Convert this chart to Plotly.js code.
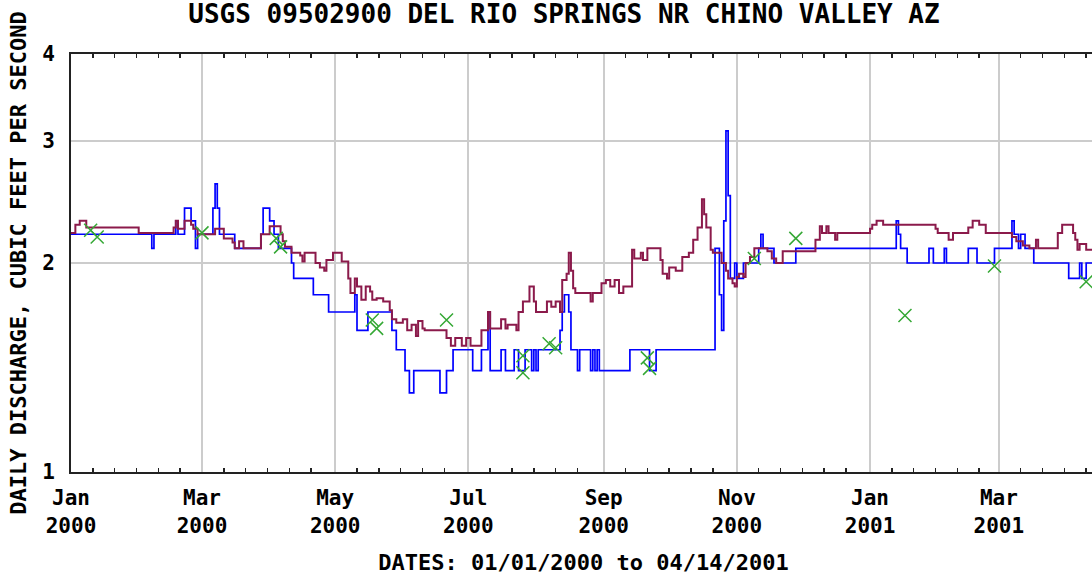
<!DOCTYPE html>
<html>
<head>
<meta charset="utf-8">
<script src="https://cdn.plot.ly/plotly-3.0.1.min.js"></script>
<style>
html,body{margin:0;padding:0;overflow:hidden;background:#fff;}
#chart{width:1100px;height:576px;}
</style>
</head>
<body>
<div id="chart"></div>
<script>
// Daily discharge (blue) change points, step shape
const dailyDates = ['2000-01-01','2000-02-07','2000-02-08','2000-02-18','2000-02-19','2000-02-22','2000-02-25','2000-02-27','2000-02-28','2000-03-06','2000-03-07','2000-03-08','2000-03-09','2000-03-16','2000-03-28','2000-03-29','2000-04-01','2000-04-03','2000-04-05','2000-04-11','2000-04-12','2000-04-21','2000-04-28','2000-05-10','2000-05-11','2000-05-16','2000-05-27','2000-05-29','2000-06-02','2000-06-04','2000-06-06','2000-06-18','2000-06-21','2000-06-24','2000-07-03','2000-07-07','2000-07-10','2000-07-11','2000-07-16','2000-07-18','2000-07-22','2000-07-24','2000-07-27','2000-07-30','2000-07-31','2000-08-01','2000-08-02','2000-08-12','2000-08-13','2000-08-14','2000-08-16','2000-08-17','2000-08-20','2000-08-21','2000-08-26','2000-08-27','2000-08-28','2000-08-29','2000-08-30','2000-09-13','2000-09-22','2000-09-25','2000-10-22','2000-10-24','2000-10-25','2000-10-26','2000-10-27','2000-10-28','2000-10-29','2000-10-31','2000-11-01','2000-11-04','2000-11-11','2000-11-12','2000-11-13','2000-11-18','2000-11-28','2001-01-13','2001-01-14','2001-01-15','2001-01-18','2001-01-28','2001-01-30','2001-02-04','2001-02-05','2001-02-15','2001-02-19','2001-02-27','2001-03-07','2001-03-08','2001-03-10','2001-03-11','2001-03-13','2001-03-17','2001-04-02','2001-04-07','2001-04-08','2001-04-10','2001-04-14'];
const dailyValues = [2.2,2.1,2.2,2.3,2.2,2.4,2.3,2.1,2.2,2.4,2.6,2.4,2.2,2.1,2.2,2.4,2.3,2.2,2.1,2.0,1.9,1.8,1.7,1.8,1.6,1.7,1.6,1.5,1.4,1.3,1.4,1.3,1.4,1.5,1.4,1.5,1.7,1.4,1.5,1.4,1.5,1.4,1.5,1.4,1.5,1.4,1.5,1.6,1.7,1.8,1.7,1.5,1.4,1.5,1.4,1.5,1.4,1.5,1.4,1.5,1.4,1.5,2.1,1.8,1.6,2.3,3.1,2.5,1.9,2.0,1.9,2.0,2.1,2.2,2.1,2.0,2.1,2.3,2.2,2.1,2.0,2.1,2.0,2.1,2.0,2.1,2.0,2.1,2.3,2.2,2.1,2.2,2.1,2.0,1.9,2.0,1.9,2.0,2.0];

// Statistic series (maroon) change points
const statDates = ['2000-01-01','2000-01-03','2000-01-05','2000-01-08','2000-02-01','2000-02-17','2000-02-18','2000-02-19','2000-02-22','2000-02-25','2000-02-26','2000-02-28','2000-03-07','2000-03-11','2000-03-15','2000-03-16','2000-03-18','2000-03-20','2000-03-28','2000-04-01','2000-04-06','2000-04-07','2000-04-08','2000-04-11','2000-04-15','2000-04-16','2000-04-17','2000-04-22','2000-04-24','2000-04-26','2000-04-27','2000-04-30','2000-05-04','2000-05-07','2000-05-08','2000-05-10','2000-05-11','2000-05-13','2000-05-15','2000-05-17','2000-05-18','2000-05-20','2000-05-23','2000-05-26','2000-05-27','2000-05-29','2000-06-01','2000-06-03','2000-06-05','2000-06-07','2000-06-08','2000-06-10','2000-06-11','2000-06-21','2000-06-23','2000-06-25','2000-06-28','2000-06-30','2000-07-02','2000-07-07','2000-07-10','2000-07-11','2000-07-16','2000-07-18','2000-07-19','2000-07-23','2000-07-24','2000-07-26','2000-07-29','2000-07-31','2000-08-01','2000-08-06','2000-08-08','2000-08-10','2000-08-12','2000-08-13','2000-08-15','2000-08-16','2000-08-17','2000-08-18','2000-08-19','2000-08-26','2000-08-27','2000-08-31','2000-09-02','2000-09-04','2000-09-06','2000-09-08','2000-09-10','2000-09-14','2000-09-15','2000-09-18','2000-09-19','2000-09-21','2000-09-27','2000-09-28','2000-09-30','2000-10-01','2000-10-04','2000-10-07','2000-10-10','2000-10-12','2000-10-14','2000-10-16','2000-10-17','2000-10-18','2000-10-20','2000-10-21','2000-10-25','2000-10-27','2000-10-28','2000-10-30','2000-10-31','2000-11-01','2000-11-02','2000-11-04','2000-11-05','2000-11-07','2000-11-09','2000-11-15','2000-11-17','2000-11-19','2000-11-22','2000-12-07','2000-12-09','2000-12-10','2000-12-12','2000-12-13','2000-12-16','2000-12-17','2001-01-01','2001-01-02','2001-01-04','2001-01-07','2001-01-31','2001-02-01','2001-02-06','2001-02-08','2001-02-15','2001-02-17','2001-02-20','2001-02-23','2001-03-07','2001-03-09','2001-03-12','2001-03-15','2001-03-18','2001-03-19','2001-03-28','2001-03-30','2001-04-04','2001-04-05','2001-04-06','2001-04-07','2001-04-10','2001-04-14'];
const statValues = [2.21,2.27,2.30,2.25,2.21,2.25,2.30,2.24,2.30,2.27,2.24,2.20,2.24,2.17,2.14,2.10,2.15,2.10,2.20,2.26,2.20,2.15,2.11,2.07,2.05,2.01,2.07,2.00,1.97,1.95,2.02,2.07,2.01,1.90,1.81,1.90,1.85,1.77,1.85,1.82,1.77,1.78,1.76,1.71,1.66,1.64,1.66,1.60,1.63,1.57,1.65,1.61,1.60,1.56,1.52,1.56,1.52,1.56,1.52,1.60,1.70,1.61,1.66,1.61,1.63,1.60,1.70,1.76,1.85,1.76,1.70,1.76,1.73,1.76,1.70,1.89,1.93,2.07,1.95,1.84,1.81,1.76,1.81,1.87,1.89,1.85,1.89,1.81,1.85,2.09,2.03,2.07,2.02,2.10,2.02,1.93,1.90,1.97,1.95,2.04,2.07,2.16,2.25,2.47,2.35,2.25,2.09,2.07,2.00,1.95,1.90,1.87,1.85,1.91,1.93,1.91,2.00,2.04,2.10,2.08,2.03,2.00,2.08,2.16,2.26,2.21,2.26,2.21,2.16,2.21,2.24,2.27,2.30,2.27,2.24,2.21,2.16,2.21,2.25,2.30,2.27,2.21,2.18,2.15,2.12,2.10,2.16,2.10,2.21,2.27,2.21,2.16,2.09,2.13,2.09,2.09];

// Field measurements (green X)
const measDates = ['2000-01-10','2000-01-13','2000-03-01','2000-04-04','2000-04-06','2000-05-18','2000-05-20','2000-06-21','2000-07-26','2000-07-26','2000-08-07','2000-08-10','2000-09-21','2000-09-22','2000-11-09','2000-11-28','2001-01-17','2001-02-27','2001-04-10'];
const measValues = [2.23,2.18,2.21,2.17,2.11,1.655,1.61,1.655,1.47,1.39,1.53,1.51,1.46,1.41,2.03,2.17,1.68,1.98,1.88];

const yTickVals = [1,2,3,4];
const yTickText = ['1','2','3','4'];
const xStart = '2000-01-01';
const xEnd = '2001-04-14 12:00';
const titleText = 'USGS 09502900 DEL RIO SPRINGS NR CHINO VALLEY AZ';
const xTitleText = 'DATES: 01/01/2000 to 04/14/2001';
const yTitleText = 'DAILY DISCHARGE, CUBIC FEET PER SECOND';

// minor ticks every 10 days after each 2-month major tick
const minorVals = [];
for (let y = 2000; y <= 2001; y++) {
  for (let m = 0; m < 12; m += 2) {
    for (let k = 1; k <= 5; k++) {
      const d = new Date(Date.UTC(y, m, 1 + 10 * k));
      const s = d.toISOString().slice(0, 10);
      if (s < '2001-04-15') minorVals.push(s);
    }
  }
}

const FONT = 'DejaVu Sans Mono, monospace';

const traces = [
  {x: dailyDates, y: dailyValues, type: 'scatter', mode: 'lines',
   line: {color: '#0000ff', width: 1.7, shape: 'hv'}},
  {x: statDates, y: statValues, type: 'scatter', mode: 'lines',
   line: {color: '#8b1a4b', width: 2, shape: 'hv'}},
  {x: measDates, y: measValues, type: 'scatter', mode: 'markers',
   marker: {symbol: 'x-thin-open', size: 13, color: '#35a835', line: {color: '#35a835', width: 1.5}}}
];

const minorTicks = {tickmode: 'array', tickvals: minorVals, ticks: 'inside', ticklen: 4,
                    tickwidth: 1.5, tickcolor: '#222', showgrid: false};

const layout = {
  width: 1100, height: 576,
  margin: {l: 71, r: 4, t: 54, b: 104},
  paper_bgcolor: '#ffffff', plot_bgcolor: '#ffffff',
  showlegend: false,
  font: {family: FONT, color: '#000', size: 21, weight: 'bold'},
  title: {text: titleText, x: 564 / 1100, xref: 'container', xanchor: 'center',
          y: 1 - 14 / 576, yref: 'container', yanchor: 'middle',
          font: {family: FONT, size: 26, weight: 'bold', color: '#000'}},
  xaxis: {
    type: 'date', range: [xStart, xEnd],
    tick0: '2000-01-01', dtick: 'M2', tickformat: '%b<br>%Y',
    ticks: '', showgrid: true, gridcolor: '#cccccc', gridwidth: 2,
    showline: true, linecolor: '#222', linewidth: 2, mirror: true,
    zeroline: false, ticklabelstandoff: 6,
    tickfont: {family: FONT, size: 21, weight: 'bold', color: '#000'},
    minor: minorTicks,
    title: {text: xTitleText, standoff: 18,
            font: {family: FONT, size: 22, weight: 'bold', color: '#000'}}
  },
  xaxis2: {
    type: 'date', range: [xStart, xEnd], overlaying: 'x', side: 'top',
    tick0: '2000-01-01', dtick: 'M2', ticks: '', showticklabels: false,
    showgrid: false, showline: false, zeroline: false,
    minor: minorTicks
  },
  yaxis: {
    type: 'log', range: [0, Math.log10(4)],
    tickmode: 'array', tickvals: yTickVals, ticktext: yTickText,
    ticks: '', showgrid: true, gridcolor: '#cccccc', gridwidth: 2,
    showline: true, linecolor: '#222', linewidth: 2, mirror: true,
    zeroline: false, ticklabelstandoff: 10,
    tickfont: {family: FONT, size: 21, weight: 'bold', color: '#000'},
    title: {text: yTitleText, standoff: 9,
            font: {family: FONT, size: 22, weight: 'bold', color: '#000'}}
  }
};

// an empty trace bound to the top axis so its minor ticks are drawn
traces.push({x: [], y: [], xaxis: 'x2', yaxis: 'y', type: 'scatter', mode: 'lines', showlegend: false});

Plotly.newPlot('chart', traces, layout, {staticPlot: true, displayModeBar: false});
</script>
</body>
</html>
